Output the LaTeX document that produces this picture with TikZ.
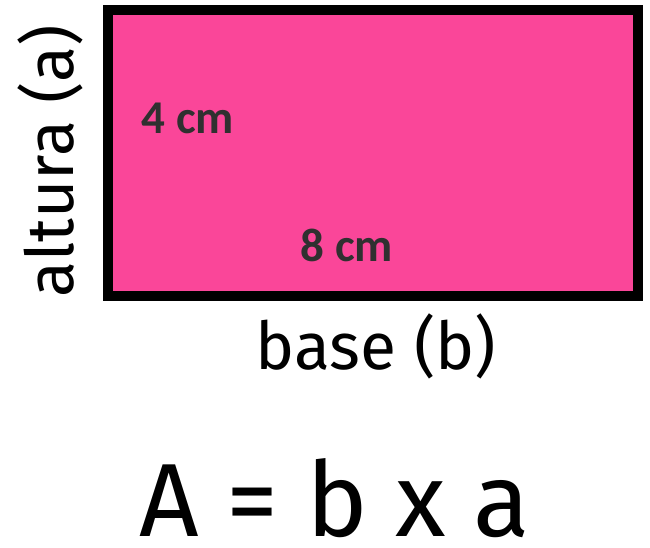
\documentclass[tikz,border=0pt]{standalone}
\usepackage{fontspec}
\setmainfont{Carlito}
\newfontfamily\handfont{Fira Sans}
\usetikzlibrary{positioning}
\definecolor{rectpink}{HTML}{FA4699}
\definecolor{labelgray}{HTML}{303030}

\begin{document}
\begin{tikzpicture}[x=1pt,y=-1pt,
  measure/.style={font=\bfseries\fontsize{47}{47}\selectfont,text=labelgray},
  hand/.style={font=\handfont\fontsize{66}{66}\selectfont}]
\useasboundingbox (0,0) rectangle (650,548);
% Rectangle
\draw[line width=10pt,fill=rectpink] (108,10) rectangle (638,296);
\coordinate (rect) at (373,153);

% Measures
\node[measure] (height) at (188,118) {4 cm};
\node[measure] (width) at (347,245) {8 cm};

% Side labels
\node[hand,rotate=90] (altura) at (50,161) {altura (a)};
\node[hand] (base) at (376,346) {base (b)};

% Formula
\node[hand,font=\handfont\fontsize{104}{104}\selectfont,anchor=base,inner sep=0pt] (formula) at (335,536) {A = b x a};

\end{tikzpicture}
\end{document}
